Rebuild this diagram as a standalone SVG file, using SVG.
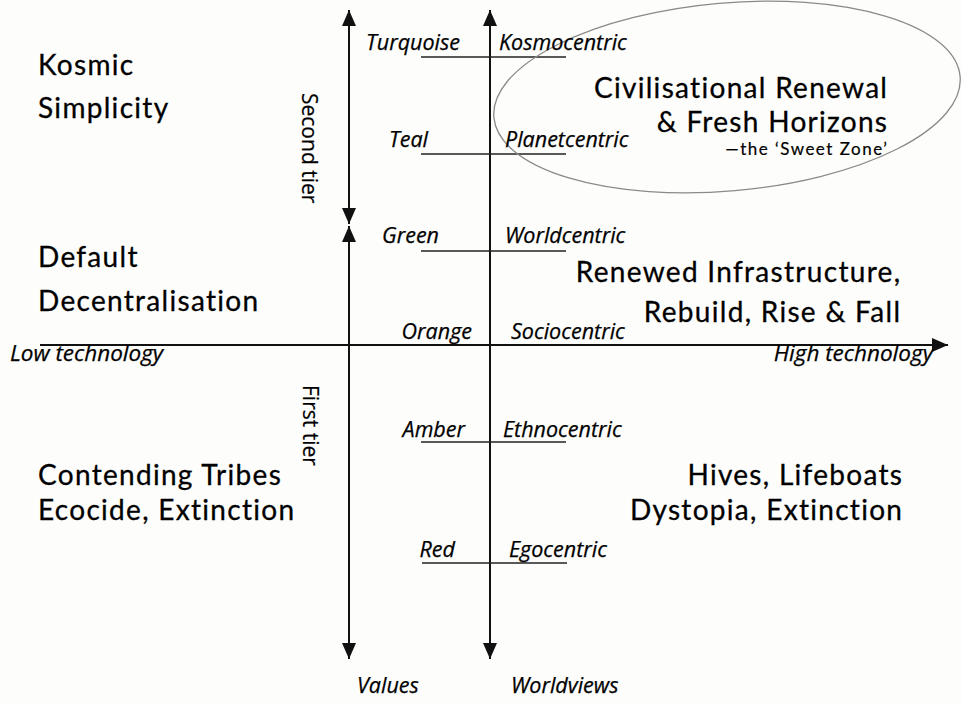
<svg xmlns="http://www.w3.org/2000/svg" width="962" height="705" viewBox="0 0 962 705">
<style>
.big{font-family:Lato,"Open Sans","Liberation Sans",sans-serif;font-size:28px;letter-spacing:1.3px;fill:#000;stroke:#000;stroke-width:0.3}
.sz{font-family:Lato,"Open Sans","Liberation Sans",sans-serif;font-size:17px;letter-spacing:1.5px;fill:#000;stroke:#000;stroke-width:0.2}
.lab{font-family:"Open Sans","Liberation Sans",sans-serif;font-size:21.5px;font-style:italic;fill:#000;stroke:#000;stroke-width:0.25}
.tier{font-family:"Open Sans","Liberation Sans",sans-serif;font-size:21px;fill:#000;stroke:#000;stroke-width:0.2}
.axis{stroke:#111;stroke-width:2;fill:none}
.tick{stroke:#222;stroke-width:1.5}
</style>
<defs>
<marker id="ah" viewBox="0 0 16 14" refX="16" refY="7" markerWidth="16" markerHeight="14" markerUnits="userSpaceOnUse" orient="auto-start-reverse">
<path d="M0,0 L16,7 L0,14 Z" fill="#111"/>
</marker>
</defs>
<rect width="962" height="705" fill="#fdfdfb"/>
<g id="connectors">
<line class="axis" x1="40" y1="345" x2="948" y2="345" stroke-width="2.5" marker-end="url(#ah)"/>
<line class="axis" x1="349" y1="10" x2="349" y2="224" marker-start="url(#ah)" marker-end="url(#ah)"/>
<line class="axis" x1="349" y1="226" x2="349" y2="659" marker-start="url(#ah)" marker-end="url(#ah)"/>
<line class="axis" x1="490" y1="10" x2="490" y2="659" marker-start="url(#ah)" marker-end="url(#ah)"/>
<line class="tick" x1="421" y1="57" x2="566" y2="57"/>
<line class="tick" x1="421" y1="154" x2="566" y2="154"/>
<line class="tick" x1="421" y1="251" x2="566" y2="251"/>
<line class="tick" x1="421" y1="442" x2="566" y2="442"/>
<line class="tick" x1="422" y1="563" x2="567" y2="563"/>
</g>
<g id="sweet-zone">
<ellipse cx="727" cy="97" rx="234" ry="94" transform="rotate(-5 727 97)" fill="none" stroke="#8a8a8a" stroke-width="1.3"/>
<text class="big" x="888.3" y="98" text-anchor="end">Civilisational Renewal</text>
<text class="big" x="888.3" y="132" text-anchor="end">&amp; Fresh Horizons</text>
<text class="sz" x="888.5" y="155" text-anchor="end">—the ‘Sweet Zone’</text>
</g>
<g id="kosmic">
<text class="big" x="38" y="75">Kosmic</text>
<text class="big" x="38" y="118">Simplicity</text>
</g>
<g id="default">
<text class="big" x="38" y="267">Default</text>
<text class="big" x="38" y="311">Decentralisation</text>
</g>
<g id="renewed">
<text class="big" x="901.3" y="282" text-anchor="end">Renewed Infrastructure,</text>
<text class="big" x="901.3" y="322" text-anchor="end">Rebuild, Rise &amp; Fall</text>
</g>
<g id="contending">
<text class="big" x="38" y="485">Contending Tribes</text>
<text class="big" x="38" y="520">Ecocide, Extinction</text>
</g>
<g id="hives">
<text class="big" x="903.3" y="485" text-anchor="end">Hives, Lifeboats</text>
<text class="big" x="903.3" y="520" text-anchor="end">Dystopia, Extinction</text>
</g>
<g id="labels">
<text class="lab" x="10" y="361" style="font-size:22.5px">Low technology</text>
<text class="lab" x="933" y="361" text-anchor="end" style="font-size:22.5px">High technology</text>
<text class="lab" x="460" y="50" text-anchor="end">Turquoise</text>
<text class="lab" x="499" y="50">Kosmocentric</text>
<text class="lab" x="428" y="147" text-anchor="end">Teal</text>
<text class="lab" x="505" y="147">Planetcentric</text>
<text class="lab" x="439" y="243" text-anchor="end">Green</text>
<text class="lab" x="505" y="243">Worldcentric</text>
<text class="lab" x="472" y="339" text-anchor="end">Orange</text>
<text class="lab" x="511" y="339">Sociocentric</text>
<text class="lab" x="465" y="437" text-anchor="end">Amber</text>
<text class="lab" x="503" y="437">Ethnocentric</text>
<text class="lab" x="455" y="557" text-anchor="end">Red</text>
<text class="lab" x="509" y="557">Egocentric</text>
<text class="lab" x="357" y="693">Values</text>
<text class="lab" x="511" y="693">Worldviews</text>
</g>
<g id="tiers">
<text class="tier" transform="translate(302 93) rotate(90)">Second tier</text>
<text class="tier" transform="translate(303 385) rotate(90)">First tier</text>
</g>
</svg>
